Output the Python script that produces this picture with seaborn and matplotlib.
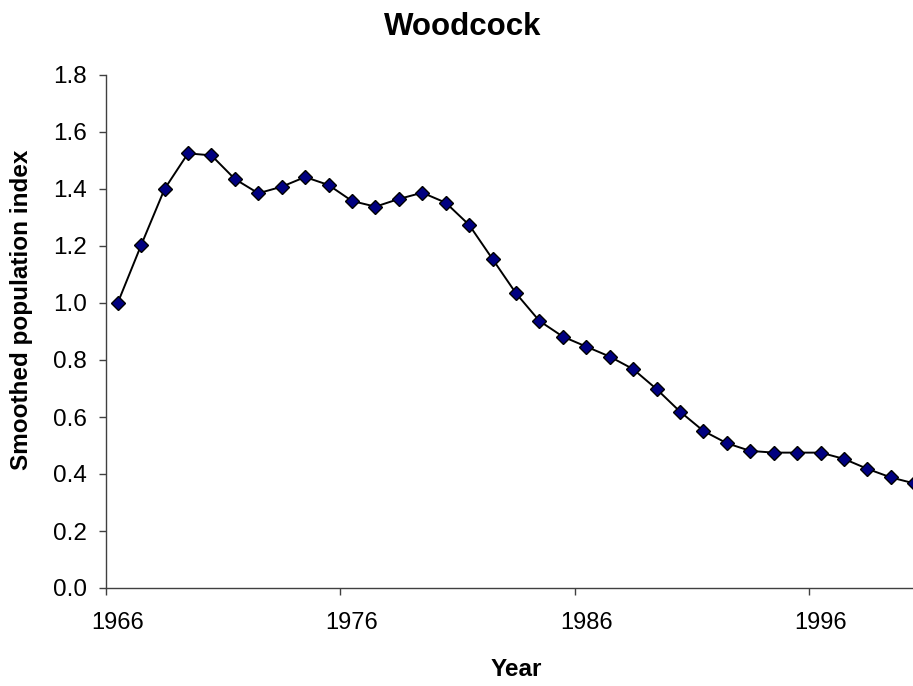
import matplotlib
matplotlib.use("Agg")
import matplotlib.pyplot as plt
import seaborn as sns
import pandas as pd

years = list(range(1966, 2001))
index_values = [1.000, 1.203, 1.400, 1.525, 1.518, 1.435, 1.385, 1.408, 1.442, 1.414,
                1.358, 1.338, 1.365, 1.387, 1.352, 1.274, 1.154, 1.034, 0.937, 0.882,
                0.847, 0.812, 0.768, 0.698, 0.619, 0.551, 0.508, 0.481, 0.475, 0.475,
                0.475, 0.453, 0.418, 0.388, 0.367]
x_tick_labels = ["1966", "1976", "1986", "1996"]
y_ticks = [0.0, 0.2, 0.4, 0.6, 0.8, 1.0, 1.2, 1.4, 1.6, 1.8]

title = "Woodcock"
x_label = "Year"
y_label = "Smoothed population index"

sns.set_style("white")
plt.rcParams['font.family'] = ['Liberation Sans', 'DejaVu Sans']
plt.rcParams['text.color'] = 'black'
plt.rcParams['xtick.color'] = 'black'
plt.rcParams['ytick.color'] = 'black'

df = pd.DataFrame({"year": years, "index": index_values})

fig = plt.figure(figsize=(9.13, 6.86), dpi=100)
ax = fig.add_axes([106/913, 98/686, 820/913, 513/686])

sns.lineplot(data=df, x="year", y="index", ax=ax, color="black", linewidth=1.4,
             marker="D", markersize=6.8, markerfacecolor="#000080",
             markeredgecolor="black", markeredgewidth=1.0)

ax.set_xlim(1965.5, 2000.5)
ax.set_ylim(0, 1.8)
ax.set_yticks(y_ticks)
ax.set_yticklabels([f"{v:.1f}" for v in y_ticks])

label_years = [int(s) for s in x_tick_labels]
ax.set_xticks(label_years)
ax.set_xticklabels(x_tick_labels)
ax.set_xticks([y - 0.5 for y in label_years], minor=True)
ax.tick_params(axis="x", which="major", bottom=True, length=0, pad=17, labelsize=17,
               labelcolor="black")
ax.tick_params(axis="x", which="minor", bottom=True, length=5, width=1, color="#404040",
               direction="out")
ax.tick_params(axis="y", which="major", left=True, length=5, width=1, color="#404040",
               direction="out", pad=9, labelsize=17.5, labelcolor="black")

for s in ["top", "right"]:
    ax.spines[s].set_visible(False)
for s in ["left", "bottom"]:
    ax.spines[s].set_color("#404040")
    ax.spines[s].set_linewidth(1.0)

ax.set_xlabel("")
ax.set_ylabel("")

fig.text(463/913, 1 - 27/686, title, ha="center", va="center", fontsize=22.5,
         fontweight="bold", color="black")
fig.text(516/913, 1 - 670/686, x_label, ha="center", va="center", fontsize=17.5,
         fontweight="bold", color="black")
fig.text(22/913, 1 - 310/686, y_label, ha="center", va="center", rotation=90,
         fontsize=17.5, fontweight="bold", color="black")

fig.savefig("out.png", dpi=100)
